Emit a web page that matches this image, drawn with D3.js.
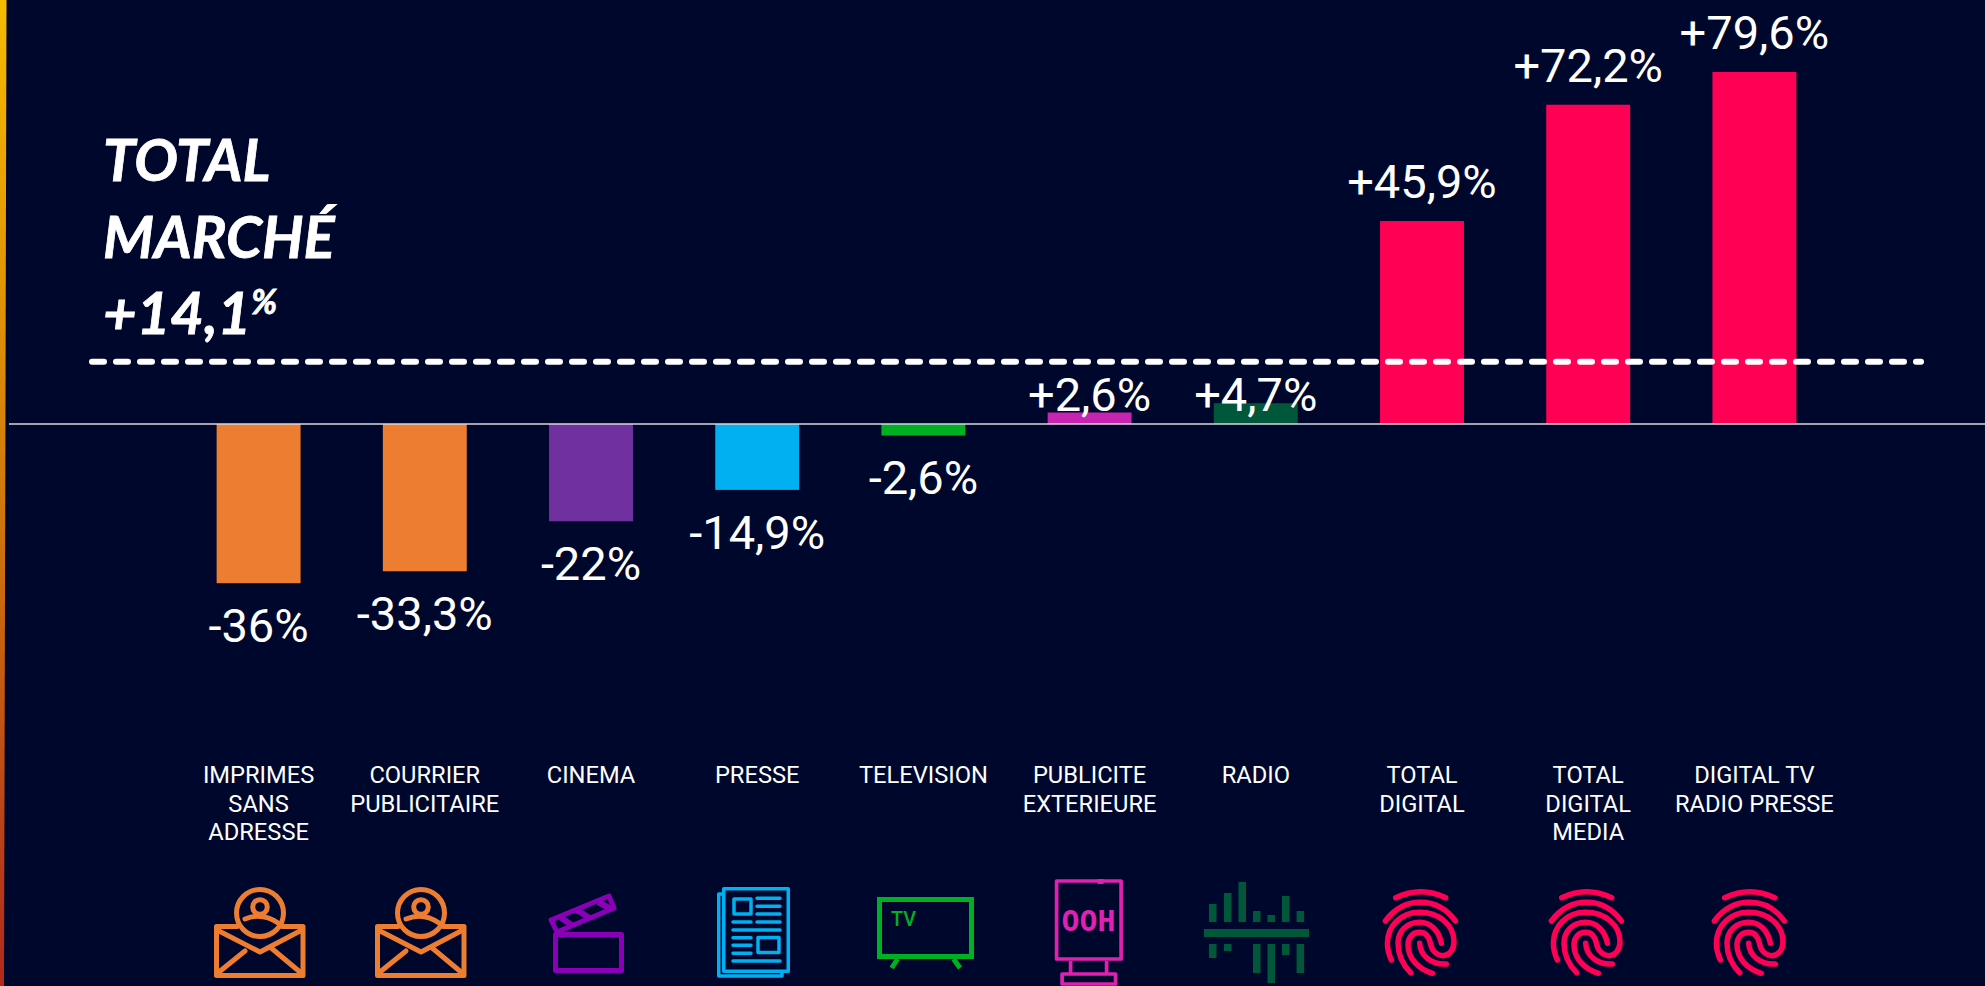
<!DOCTYPE html>
<html><head><meta charset="utf-8">
<style>html,body{margin:0;padding:0;background:#00072d;overflow:hidden}svg{display:block}</style>
<script src="https://cdnjs.cloudflare.com/ajax/libs/d3/7.8.5/d3.min.js"></script>
</head><body><script>
const categories=[["IMPRIMES","SANS","ADRESSE"],["COURRIER","PUBLICITAIRE"],["CINEMA"],["PRESSE"],["TELEVISION"],["PUBLICITE","EXTERIEURE"],["RADIO"],["TOTAL","DIGITAL"],["TOTAL","DIGITAL","MEDIA"],["DIGITAL TV","RADIO PRESSE"]];
const values=[-36,-33.3,-22,-14.9,-2.6,2.6,4.7,45.9,72.2,79.6];
const valueLabels=["-36%","-33,3%","-22%","-14,9%","-2,6%","+2,6%","+4,7%","+45,9%","+72,2%","+79,6%"];
const barColors=["#ed7d31","#ed7d31","#7030a0","#00b0f0","#00b024","#c724b1","#00573a","#ff0055","#ff0055","#ff0055"];
const iconColors=["#ed7d31","#ed7d31","#8a00b8","#00b0f0","#00b024","#e020b0","#00573a","#ff0055","#ff0055","#ff0055"];
const iconNames=["mail","mail","clap","news","tv","ooh","radio","finger","finger","finger"];
const titleLines=["TOTAL","MARCHÉ","+14,1"];
const totalMarket=14.1;

const W=1985,H=986;
const svg=d3.select("body").append("svg").attr("width",W).attr("height",H);
const defs=svg.append("defs");
const g=defs.append("linearGradient").attr("id","edge").attr("x1",0).attr("x2",0).attr("y1",0).attr("y2",1);
g.append("stop").attr("offset",0).attr("stop-color","#f6bb00");
g.append("stop").attr("offset",.5).attr("stop-color","#d07a0c");
g.append("stop").attr("offset",1).attr("stop-color","#b0281a");
svg.append("path").attr("d","M0 0H6.5L4 986H0Z").attr("fill","url(#edge)");

const x=d3.scaleBand().domain(d3.range(values.length)).range([175.5,1837.5]).paddingInner(0.495).paddingOuter(0.2475);
const y=d3.scaleLinear().domain([0,79.6]).range([424,72]);
const mid=i=>x(i)+x.bandwidth()/2;

svg.selectAll("rect.bar").data(values).join("rect").attr("class","bar")
 .attr("x",(d,i)=>x(i)).attr("width",x.bandwidth())
 .attr("y",d=>Math.min(y(d),y(0))).attr("height",d=>Math.abs(y(d)-y(0)))
 .attr("fill",(d,i)=>barColors[i]);

svg.append("line").attr("x1",9).attr("x2",W).attr("y1",y(0)).attr("y2",y(0)).attr("stroke","#d9d9d9").attr("stroke-width",1.5);
svg.append("line").attr("x1",92).attr("x2",1921).attr("y1",y(totalMarket)).attr("y2",y(totalMarket))
 .attr("stroke","#fff").attr("stroke-width",6).attr("stroke-linecap","round").attr("stroke-dasharray","12 12");

svg.selectAll("text.val").data(values).join("text").attr("class","val")
 .attr("x",(d,i)=>mid(i)).attr("y",d=>d<0?y(d)+59:(d<10?411:y(d)-23))
 .attr("text-anchor","middle").attr("fill","#fff")
 .style("font","400 47px Roboto").text((d,i)=>valueLabels[i]);

const cat=svg.selectAll("text.cat").data(categories).join("text").attr("class","cat")
 .attr("text-anchor","middle").attr("fill","#fff").style("font","400 23.7px Roboto");
cat.each(function(lines,i){
 d3.select(this).selectAll("tspan").data(lines).join("tspan").attr("x",mid(i)).attr("y",(l,k)=>783+k*28.5).text(l=>l);
});

const title=svg.append("g").attr("fill","#fff").attr("stroke","#fff").attr("stroke-width",0.8).style("font","italic 700 58px Lato");
titleLines.forEach((t,k)=>{
 const tx=title.append("text").attr("x",103).attr("y",181+k*76.5).text(t);
 if(k==2) tx.append("tspan").attr("dy",-20).style("font-size","34px").text("%");
});

// icons, drawn in local coordinates around the icon origin (top-left of each icon box)
const icons={
 mail(s,c){
  const p=s.append("g").attr("fill","none").attr("stroke",c).attr("stroke-width",5).attr("stroke-linejoin","round").attr("stroke-linecap","round");
  p.append("path").attr("d","M23 39.5H2.5V88.5H89V39.5H68");
  p.append("circle").attr("cx",46).attr("cy",26).attr("r",23.5);
  p.append("circle").attr("cx",46).attr("cy",20).attr("r",7.3);
  p.append("path").attr("d","M31 32Q48 25 64 36");
  p.append("path").attr("d","M5 44L46 65L86 44M5 85L31 64M86 85L56 60");
 },
 clap(s,c){
  const p=s.append("g").attr("fill","none").attr("stroke",c).attr("stroke-width",5).attr("stroke-linejoin","round");
  p.append("rect").attr("x",7.5).attr("y",43.5).attr("width",66).attr("height",36);
  p.append("path").attr("d","M3 29L61 5L66 17L9 41Z");
  p.append("path").attr("d","M12 26L25 35M29 19L43 28M50 11L63 18").attr("stroke-width",6);
 },
 news(s,c){
  const p=s.append("g").attr("fill","none").attr("stroke",c).attr("stroke-width",3.5).attr("stroke-linejoin","round");
  p.append("path").attr("d","M6 7H1.75V89H65V85");
  p.append("rect").attr("x",6.75).attr("y",1.75).attr("width",64.5).attr("height",82.5);
  p.append("rect").attr("x",17).attr("y",12).attr("width",17).attr("height",15);
  p.append("rect").attr("x",41).attr("y",50.5).attr("width",21).attr("height",15);
  p.append("path").attr("stroke-linecap","round").attr("d","M40 11.3H63M40 19.3H63M40 27H63M16 35H34M40 35H63M16 43H63M16 50.7H34M16 58.3H34M16 66.3H34M16 74H63");
 },
 tv(s,c){
  const p=s.append("g").attr("fill","none").attr("stroke",c);
  p.append("rect").attr("x",2.5).attr("y",2.5).attr("width",92).attr("height",57).attr("stroke-width",5);
  p.append("path").attr("stroke-width",5).attr("d","M20.6 62L14.7 71M76.6 62L83 71");
  s.append("text").attr("x",14).attr("y",29).attr("fill",c).attr("textLength",25).attr("lengthAdjust","spacingAndGlyphs").style("font","500 20px Roboto").text("TV");
 },
 ooh(s,c){
  const p=s.append("g").attr("fill","none").attr("stroke",c).attr("stroke-width",3.7).attr("stroke-linejoin","round");
  p.append("rect").attr("x",2).attr("y",2).attr("width",64.5).attr("height",78);
  p.append("path").attr("d","M16 82V94M52 82V94");
  p.append("rect").attr("x",7.5).attr("y",95).attr("width",53.5).attr("height",10);
  s.append("rect").attr("x",43).attr("y",0).attr("width",6).attr("height",5).attr("fill",c);
  s.append("text").attr("x",7).attr("y",52).attr("fill",c).attr("textLength",54).attr("lengthAdjust","spacingAndGlyphs").style("font","700 28px 'DejaVu Sans Mono'").text("OOH");
 },
 radio(s,c){
  const barX=[5,20,34.5,49,63.5,78,92.6];
  const upTop=[22,11,0,29,33,14,29];
  const downLen=[14,7,0,29,39,11,29];
  barX.forEach((bx,i)=>{
   s.append("rect").attr("x",bx).attr("y",upTop[i]).attr("width",7.5).attr("height",40-upTop[i]).attr("fill",c);
   if(downLen[i]) s.append("rect").attr("x",bx).attr("y",62).attr("width",7.5).attr("height",downLen[i]).attr("fill",c);
  });
  s.append("rect").attr("x",0).attr("y",47).attr("width",105).attr("height",8).attr("fill",c);
 },
 finger(s,c){
  const p=s.append("g").attr("fill","none").attr("stroke",c).attr("stroke-width",5.5).attr("stroke-linecap","round");
  p.append("path").attr("d","M12.7 7.7Q37.7 -4.3 62.7 7.7");
  p.append("path").attr("d","M2.4 31C12 18 24 12.3 37.4 12.3C51 12.3 63 18 72.4 31");
  p.append("path").attr("d","M49.4 83.3C35 79 25 68 25 55C25 47 30 42.3 36.7 42.3C43 42.3 46 47 47.4 53.3C49 61 54 65.7 60 65.7C66 65.7 71 60 71 51.7C71 35 56 22.3 36.7 22.3C18 22.3 4.4 36 4.4 53.3C4.4 59 6 65 8.4 70");
  p.append("path").attr("d","M58.4 53.3C56 41 48 32.3 36.7 32.3C24 32.3 15 41 15 53.3C15 65 20 75 27.7 82.7");
  p.append("path").attr("d","M36.7 53.3C37 65 48 75 63.4 74");
 }
};
const iconPos=[[214,887],[375,887],[548,891],[717,887],[877,897],[1054.6,879],[1204,882],[1383,890],[1549,890],[1712,890]];
svg.selectAll("g.icon").data(iconNames).join("g").attr("class","icon")
 .attr("transform",(d,i)=>`translate(${iconPos[i]})`)
 .each(function(d,i){icons[d](d3.select(this),iconColors[i]);});
</script></body></html>
